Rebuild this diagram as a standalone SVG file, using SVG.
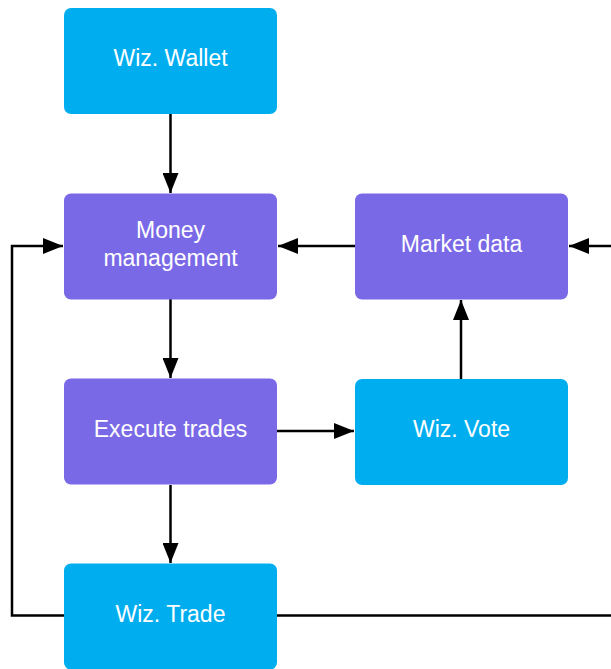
<svg xmlns="http://www.w3.org/2000/svg" width="611" height="669" viewBox="0 0 611 669">
<style>
.cyan{fill:#00AEEF}
.purple{fill:#7A69E6}
.lbl{font-family:"Liberation Sans",Arial,sans-serif;font-size:23px;fill:#FFFFFF;text-anchor:middle}
.edge{fill:none;stroke:#000;stroke-width:2.5}
</style>
<defs>
<marker id="arr" viewBox="0 0 20 16" refX="20" refY="8" markerWidth="20" markerHeight="16" markerUnits="userSpaceOnUse" orient="auto">
<path d="M0,0 L20,8 L0,16 Z" fill="#000"/>
</marker>
</defs>
<rect width="611" height="669" fill="#FFFFFF"/>
<g id="connectors">
<path class="edge" d="M170.5,114 L170.5,193" marker-end="url(#arr)"/>
<path class="edge" d="M355,246 L278,246" marker-end="url(#arr)"/>
<path class="edge" d="M170.5,299 L170.5,378" marker-end="url(#arr)"/>
<path class="edge" d="M277,431 L354,431" marker-end="url(#arr)"/>
<path class="edge" d="M461,379 L461,300" marker-end="url(#arr)"/>
<path class="edge" d="M170.5,485 L170.5,563" marker-end="url(#arr)"/>
<path class="edge" d="M64,615.5 L12,615.5 L12,246 L63,246" marker-end="url(#arr)"/>
<path class="edge" d="M277,615.5 L612,615.5"/>
<path class="edge" d="M612,246 L569,246" marker-end="url(#arr)"/>
</g>
<g id="wiz-wallet">
<rect class="cyan" x="64" y="8" width="213" height="106" rx="7"/>
<text class="lbl" x="170.5" y="66">Wiz. Wallet</text>
</g>
<g id="money-management">
<rect class="purple" x="64" y="193.5" width="213" height="106" rx="7"/>
<text class="lbl" x="170.5" y="238">Money</text>
<text class="lbl" x="170.5" y="266">management</text>
</g>
<g id="market-data">
<rect class="purple" x="355" y="193.5" width="213" height="106" rx="7"/>
<text class="lbl" x="461.5" y="252">Market data</text>
</g>
<g id="execute-trades">
<rect class="purple" x="64" y="378.5" width="213" height="106" rx="7"/>
<text class="lbl" x="170.5" y="437">Execute trades</text>
</g>
<g id="wiz-vote">
<rect class="cyan" x="355" y="379" width="213" height="106" rx="7"/>
<text class="lbl" x="461.5" y="437">Wiz. Vote</text>
</g>
<g id="wiz-trade">
<rect class="cyan" x="64" y="563.5" width="213" height="106" rx="7"/>
<text class="lbl" x="170.5" y="622">Wiz. Trade</text>
</g>
</svg>
